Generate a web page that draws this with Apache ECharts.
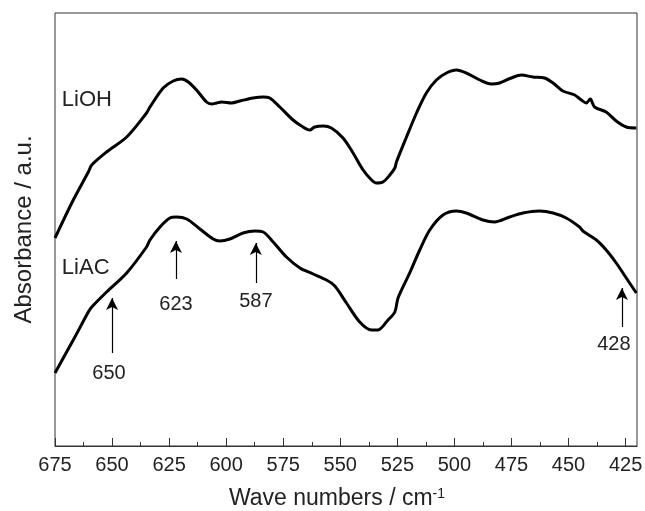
<!DOCTYPE html>
<html>
<head>
<meta charset="utf-8">
<script src="https://cdn.jsdelivr.net/npm/echarts@6/dist/echarts.min.js"></script>
<style>
  html, body { margin: 0; padding: 0; background: #fff; }
  #chart { width: 645px; height: 511px; }
</style>
</head>
<body>
<div id="chart"></div>
<script>
// x ticks (wave numbers, axis runs right-to-left)
const majorTicks = [675, 650, 625, 600, 575, 550, 525, 500, 475, 450, 425]
const minorTicks = [662.5, 637.5, 612.5, 587.5, 562.5, 537.5, 512.5, 487.5, 462.5, 437.5]

// LiOH spectrum (arbitrary absorbance units)
const lioh_wn = [675, 667.0, 660.4, 658.9, 652.4, 643.6, 634.9, 633.4, 627.6, 623.2, 619.5, 616.6, 613.0, 608.6, 606.4, 604.2, 602.0, 597.6, 594.0, 588.2, 583.8, 580.9, 576.5, 570.7, 567.0, 563.4, 561.2, 557.5, 553.9, 548.8, 544.4, 540.0, 536.3, 534.2, 531.3, 528.3, 526.1, 525.4, 521.0, 516.6, 512.3, 507.9, 503.5, 499.1, 494.8, 488.9, 483.8, 480.2, 475.1, 470.7, 465.6, 460.5, 456.8, 452.5, 447.3, 444.4, 442.2, 440.5, 438.6, 433.5, 429.1, 424.7, 420.3]
const lioh_abs = [208, 246, 274, 281, 294, 309, 333, 339, 358, 365, 367, 364, 356, 344, 342, 343, 344, 343, 345, 348, 349, 348, 339, 326, 320, 316, 319, 320, 318, 308, 293, 276, 266, 263, 264, 271, 278, 284, 309, 333, 353, 366, 373, 376, 373, 366, 362, 363, 368, 371, 369, 368, 363, 355, 351, 346, 343, 347, 339, 334, 325, 319, 318]

// LiAC spectrum
const liac_wn = [675, 667.0, 660.4, 658.9, 652.4, 643.6, 634.9, 633.4, 629.0, 624.7, 621.7, 617.3, 611.5, 605.7, 602.8, 598.4, 592.6, 587.4, 583.8, 579.4, 573.6, 567.7, 561.9, 556.1, 552.4, 547.3, 541.5, 536.3, 533.5, 529.1, 526.1, 524.7, 519.6, 515.2, 510.8, 505.0, 499.1, 494.8, 487.5, 482.4, 475.8, 470.0, 462.7, 456.8, 451.0, 445.2, 443.7, 437.8, 433.5, 429.1, 424.7, 420.3]
const liac_abs = [73, 106, 134, 139, 154, 173, 199, 206, 219, 228, 229, 227, 217, 207, 205, 207, 213, 215, 214, 204, 189, 178, 172, 166, 160, 143, 124, 116, 116, 126, 134, 148, 173, 196, 216, 231, 235, 233, 226, 224, 229, 233, 235, 233, 228, 219, 215, 206, 196, 183, 168, 153]

// peak arrows on the LiAC curve
const peakNames = ['650', '623', '587', '428']
const peakWn = [650, 622, 587, 426.6]
const arrowTip = [148, 205, 203, 158]
const arrowTail = [93, 167, 163, 119]

// label placement under each arrow
const labelGap = [10, 15, 8, 7]
const labelShift = [-3, 0, 0, -8]

const zip = (a, b) => a.map((v, i) => [v, b[i]])

const txt = '#222'
const font = 'Liberation Sans, Arial, sans-serif'

let mycharts = echarts.init(document.getElementById('chart'))

const arrows = peakNames.map((n, i) => [
    { coord: [peakWn[i], arrowTail[i]], symbol: 'none', label: { formatter: n, distance: labelGap[i], offset: [labelShift[i], 0] } },
    { coord: [peakWn[i], arrowTip[i]], symbol: 'arrow' }
])

mycharts.setOption({
    animation: false,
    grid: {
        left: 55, right: 8, top: 13, bottom: 65,
        outerBoundsMode: 'none',
        containLabel: false,
        show: true, borderColor: '#333', borderWidth: 1
    },
    xAxis: [
        {
            type: 'value', inverse: true, min: 420, max: 675,
            name: 'Wave numbers / cm{sup|-1}',
            nameLocation: 'middle', nameGap: 41,
            nameTextStyle: {
                color: txt, fontSize: 23, fontFamily: font,
                padding: [0, 18, 0, 0],
                rich: { sup: { fontSize: 14, verticalAlign: 'top', color: txt, fontFamily: font, padding: [0, 0, 9, 0] } }
            },
            splitLine: { show: false },
            axisLine: { show: true, lineStyle: { color: '#333', width: 1 } },
            axisTick: { show: true, inside: true, length: 8, customValues: majorTicks, lineStyle: { color: '#333' } },
            axisLabel: { customValues: majorTicks, color: txt, fontSize: 20, fontFamily: font, margin: 9 }
        },
        {
            type: 'value', inverse: true, min: 420, max: 675, position: 'bottom',
            splitLine: { show: false },
            axisLine: { show: false },
            axisTick: { show: true, inside: true, length: 4, customValues: minorTicks, lineStyle: { color: '#333' } },
            axisLabel: { show: false, customValues: minorTicks }
        }
    ],
    yAxis: {
        type: 'value', min: 0, max: 433,
        name: 'Absorbance / a.u.',
        nameLocation: 'middle', nameGap: 19,
        nameTextStyle: { color: txt, fontSize: 24, fontFamily: font },
        splitLine: { show: false },
        axisLine: { show: false },
        axisTick: { show: false },
        axisLabel: { show: false }
    },
    series: [
        {
            name: 'LiOH', type: 'line', data: zip(lioh_wn, lioh_abs),
            smooth: 0.3, showSymbol: false,
            lineStyle: { color: '#000', width: 3 },
            markPoint: {
                symbol: 'circle', symbolSize: 0,
                data: [{ coord: [672, 346] }],
                label: { formatter: 'LiOH', position: 'right', distance: 0, color: txt, fontSize: 22, fontFamily: font }
            }
        },
        {
            name: 'LiAC', type: 'line', data: zip(liac_wn, liac_abs),
            smooth: 0.3, showSymbol: false,
            lineStyle: { color: '#000', width: 3 },
            markPoint: {
                symbol: 'circle', symbolSize: 0,
                data: [{ coord: [672, 178] }],
                label: { formatter: 'LiAC', position: 'right', distance: 0, color: txt, fontSize: 22, fontFamily: font }
            },
            markLine: {
                silent: true,
                symbolSize: [9, 12],
                lineStyle: { color: '#000', width: 1.2, type: 'solid' },
                label: { show: true, position: 'start', distance: 6, color: txt, fontSize: 20, fontFamily: font },
                data: arrows
            }
        }
    ]
})
</script>
</body>
</html>
